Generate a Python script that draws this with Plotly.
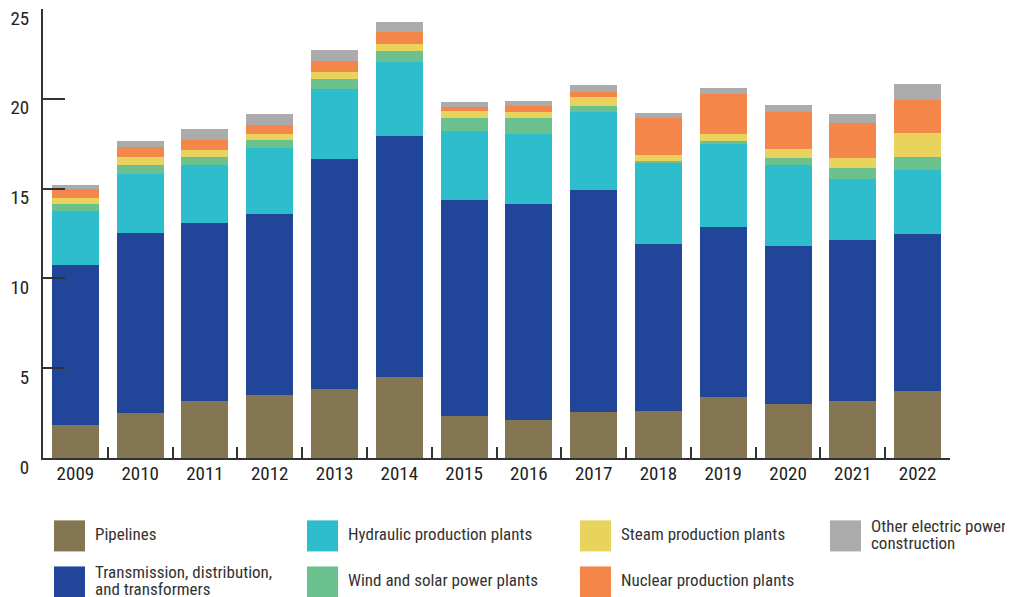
import plotly.graph_objects as go

years = ['2009', '2010', '2011', '2012', '2013', '2014', '2015',
         '2016', '2017', '2018', '2019', '2020', '2021', '2022']

pipelines = [1.82, 2.49, 3.16, 3.49, 3.83, 4.50, 2.32, 2.10, 2.55, 2.60, 3.38, 2.99, 3.16, 3.72]
transmission = [8.92, 10.04, 9.93, 10.10, 12.82, 13.44, 12.05, 12.04, 12.38, 9.31, 9.48, 8.81, 8.98, 8.75]
hydraulic = [3.01, 3.29, 3.23, 3.68, 3.91, 4.12, 3.85, 3.91, 4.34, 4.52, 4.63, 4.52, 3.40, 3.57]
wind_solar = [0.39, 0.50, 0.45, 0.44, 0.56, 0.62, 0.72, 0.89, 0.34, 0.11, 0.17, 0.39, 0.61, 0.73]
steam = [0.34, 0.45, 0.39, 0.34, 0.39, 0.39, 0.39, 0.33, 0.50, 0.34, 0.39, 0.50, 0.56, 1.33]
nuclear = [0.50, 0.52, 0.55, 0.50, 0.61, 0.67, 0.19, 0.34, 0.28, 2.06, 2.23, 2.06, 1.95, 1.84]
other = [0.22, 0.37, 0.62, 0.61, 0.61, 0.55, 0.31, 0.28, 0.39, 0.28, 0.33, 0.40, 0.50, 0.90]

series = [
    ('Pipelines', pipelines, '#857653'),
    ('Transmission, distribution, and transformers', transmission, '#214599'),
    ('Hydraulic production plants', hydraulic, '#2ebdcc'),
    ('Wind and solar power plants', wind_solar, '#6cc28e'),
    ('Steam production plants', steam, '#e8d35c'),
    ('Nuclear production plants', nuclear, '#f5864a'),
    ('Other electric power construction', other, '#ababab'),
]

# legend layout: (series index, text lines, square left px, square top px)
legend_items = [
    (0, ['Pipelines'], 54, 520),
    (1, ['Transmission, distribution,', 'and transformers'], 54, 566),
    (2, ['Hydraulic production plants'], 307, 520),
    (3, ['Wind and solar power plants'], 307, 566),
    (4, ['Steam production plants'], 580, 520),
    (5, ['Nuclear production plants'], 580, 566),
    (6, ['Other electric power', 'construction'], 830, 520),
]

FONT = 'Roboto Condensed, Liberation Sans Narrow, sans-serif'
OFF = 8  # page body margin
W, H = 1013 - OFF, 597 - OFF
L, R, T, B = 43, 950, 9.3, 457.7  # plot area in screen px

fig = go.Figure()
for name, vals, color in series:
    fig.add_trace(go.Bar(x=years, y=vals, name=name, marker_color=color,
                         marker_line_width=0, showlegend=False))


def px_x(v):
    return (v - L) / (R - L)


def px_y(v):
    return (B - v) / (B - T)


sq = 31
for idx, lines, x0, y0 in legend_items:
    color = series[idx][2]
    fig.add_shape(type='rect', xref='paper', yref='paper',
                  x0=px_x(x0), x1=px_x(x0 + sq), y0=px_y(y0 + sq), y1=px_y(y0),
                  fillcolor=color, line_width=0)
    cy = y0 + sq / 2 - 1.5
    step = 17
    start = cy - step * (len(lines) - 1) / 2
    for i, line in enumerate(lines):
        fig.add_annotation(xref='paper', yref='paper', x=px_x(x0 + 39),
                           y=px_y(start + i * step), text=line, showarrow=False,
                           xanchor='left', yanchor='middle',
                           font=dict(family=FONT, size=17, color='#333333'))

fig.update_layout(
    barmode='stack',
    bargap=0.275,
    width=W, height=H,
    margin=dict(l=L - OFF, r=W - (R - OFF), t=T - OFF, b=H - (B - OFF), autoexpand=False),
    plot_bgcolor='white', paper_bgcolor='white',
    font=dict(family=FONT, size=19, color='#222222'),
)
fig.update_xaxes(type='category', showline=True, linecolor='#333333', linewidth=2,
                 ticks='inside', tickson='boundaries', ticklen=11, tickwidth=2,
                 tickcolor='#333333', showgrid=False, automargin=False,
                 ticklabelstandoff=-3)
fig.update_yaxes(range=[0, 25], dtick=5, showline=True, linecolor='#333333', linewidth=2,
                 ticks='inside', ticklen=22, tickwidth=2, tickcolor='#333333',
                 showgrid=False, zeroline=False, ticklabelshift=9, ticklabelstandoff=8,
                 ticklabeloverflow='allow', automargin=False)

fig.write_html('out.html')
